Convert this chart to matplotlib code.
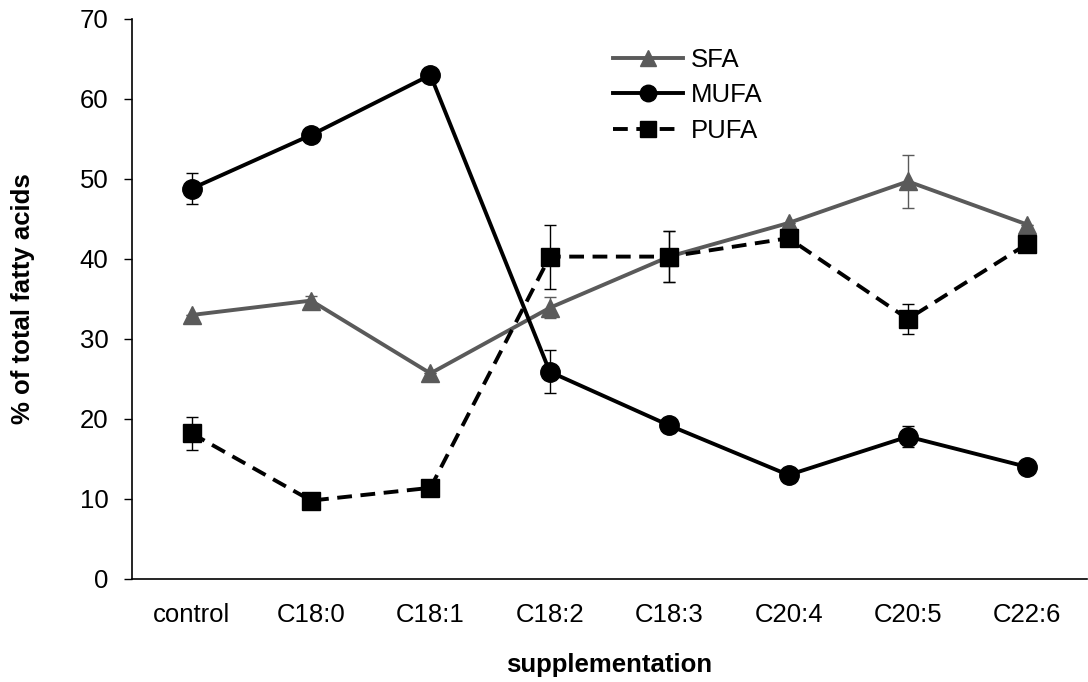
import matplotlib
matplotlib.use('Agg')
import matplotlib.pyplot as plt
import numpy as np

plt.rcParams['font.family'] = ['Liberation Sans', 'DejaVu Sans']

categories = ['control', 'C18:0', 'C18:1', 'C18:2', 'C18:3', 'C20:4', 'C20:5', 'C22:6']

sfa = [33.0, 34.8, 25.7, 33.9, 40.3, 44.5, 49.7, 44.3]
sfa_err = [0.0, 0.6, 0.0, 1.3, 3.2, 0.0, 3.3, 0.0]

mufa = [48.8, 55.5, 63.0, 25.9, 19.2, 13.0, 17.8, 14.0]
mufa_err = [1.9, 0.0, 0.0, 2.7, 0.0, 0.0, 1.3, 0.0]

pufa = [18.2, 9.8, 11.4, 40.3, 40.3, 42.6, 32.5, 41.9]
pufa_err = [2.1, 0.0, 0.0, 4.0, 3.2, 0.0, 1.9, 0.0]

x = np.arange(len(categories))
fs = 18.5

fig = plt.figure(figsize=(10.88, 6.82), dpi=100)
ax = fig.add_axes([132 / 1088, 103 / 682, 955 / 1088, 560 / 682])

gray = '#5a5a5a'
err_kw = dict(elinewidth=1.0, capsize=4.3, capthick=1.0)
c1 = ax.errorbar(x, sfa, yerr=sfa_err, color=gray, ecolor=gray, lw=2.8, marker='^',
                 ms=13, label='SFA', zorder=3, **err_kw)
c2 = ax.errorbar(x, mufa, yerr=mufa_err, color='black', ecolor='black', lw=2.8, marker='o',
                 ms=14, label='MUFA', zorder=4, **err_kw)
c3 = ax.errorbar(x, pufa, yerr=pufa_err, color='black', ecolor='black', lw=2.8,
                 ls=(0, (3.8, 2.2)), marker='s', ms=13, label='PUFA', zorder=5, **err_kw)

ax.set_ylim(0, 70)
ax.set_yticks(range(0, 71, 10))
ax.set_xlim(-0.5, 7.5)
ax.set_xticks(x)
ax.set_xticklabels(categories)
ax.tick_params(axis='x', length=0, pad=17, labelsize=fs)
ax.tick_params(axis='y', length=6, width=1, labelsize=fs, pad=11)

for s in ['top', 'right']:
    ax.spines[s].set_visible(False)
ax.spines['left'].set_linewidth(1.2)
ax.spines['bottom'].set_linewidth(1.2)

ax.set_xlabel('supplementation', fontsize=fs, fontweight='bold', labelpad=19)
ax.set_ylabel('% of total fatty acids', fontsize=fs, fontweight='bold', labelpad=32)

handles = [c1[0], c2[0], c3[0]]
ax.legend(handles=handles, labels=['SFA', 'MUFA', 'PUFA'], loc='upper left',
          bbox_to_anchor=(0.49, 0.972), frameon=False, fontsize=fs,
          handlelength=2.75, handletextpad=0.3, labelspacing=0.45, markerscale=0.85,
          borderpad=0)

fig.savefig('out.png', dpi=100)
